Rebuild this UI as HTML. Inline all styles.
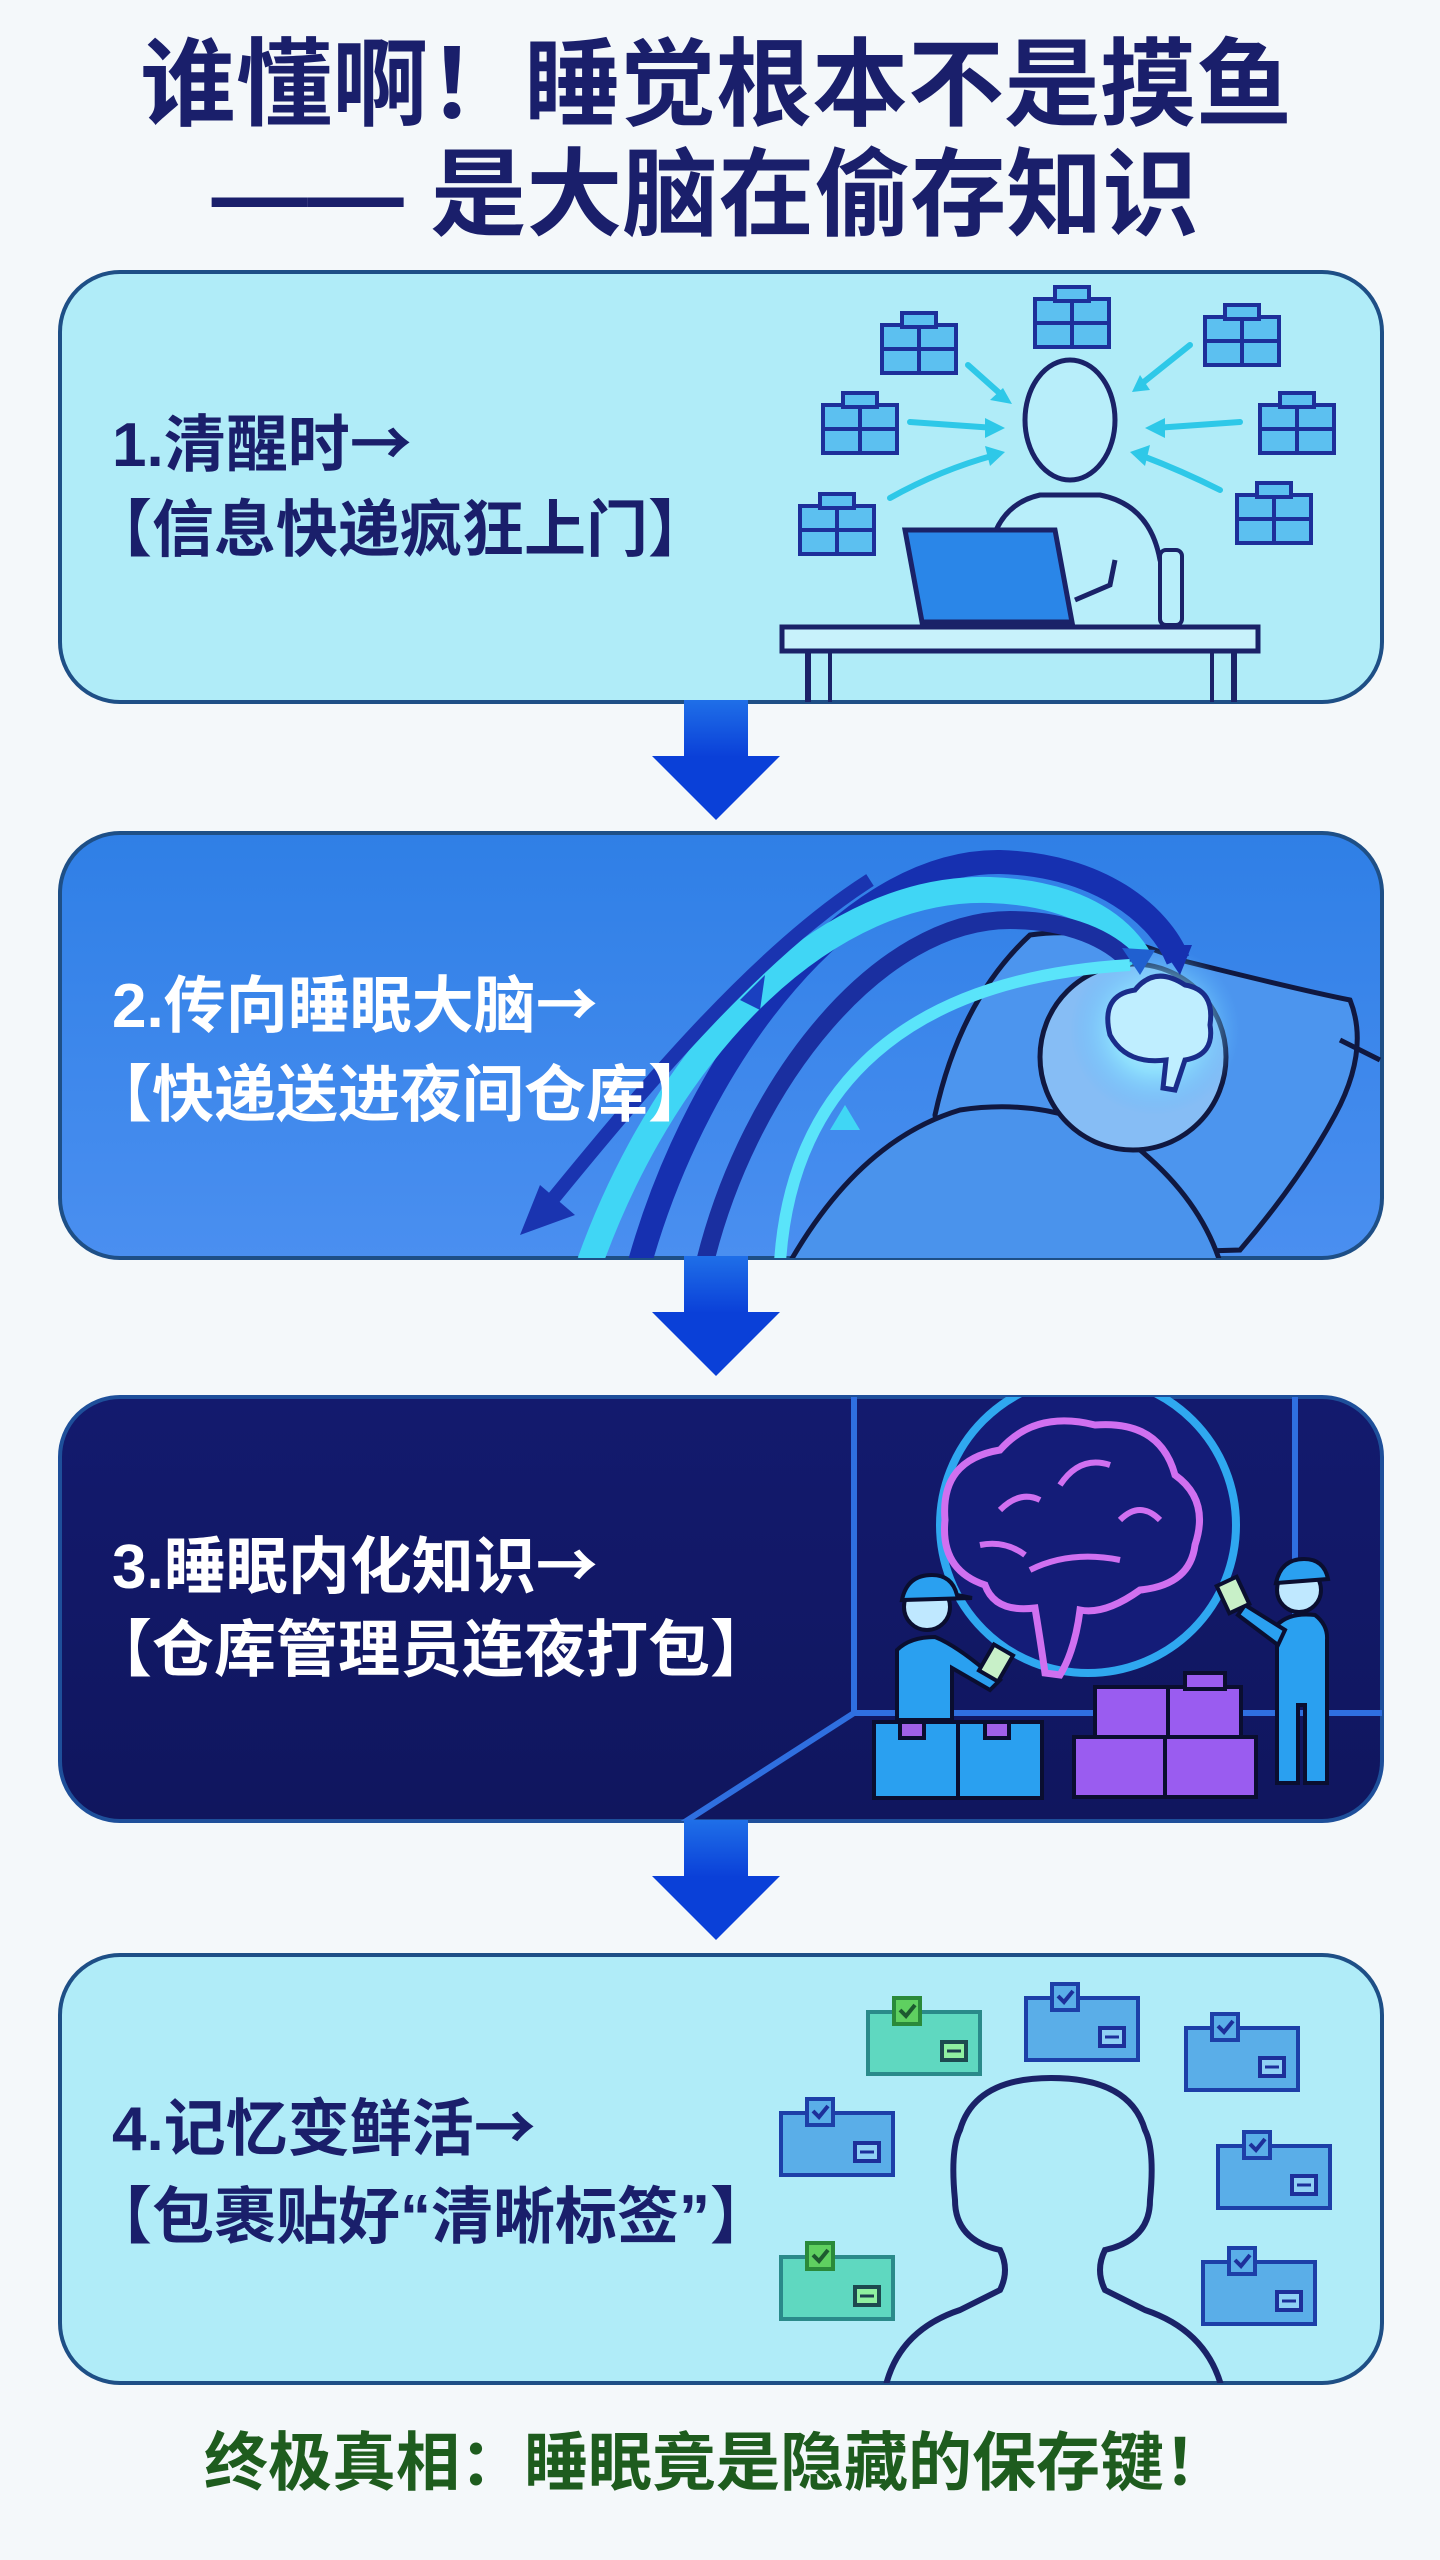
<!DOCTYPE html>
<html><head><meta charset="utf-8"><style>
html,body{margin:0;padding:0;background:#f4f8fa;}
svg{display:block}
text{font-family:"Liberation Sans","Noto Sans CJK SC",sans-serif;font-weight:bold;}
.ar{font-family:"Noto Sans CJK SC",sans-serif;}
</style></head><body>
<svg width="1440" height="2560" viewBox="0 0 1440 2560" xmlns="http://www.w3.org/2000/svg">
<defs>
<linearGradient id="g2" x1="0" y1="0" x2="0" y2="1"><stop offset="0" stop-color="#2f7fe6"/><stop offset="1" stop-color="#4a8ff0"/></linearGradient>
<linearGradient id="g3" x1="0" y1="0" x2="0" y2="1"><stop offset="0" stop-color="#131a6e"/><stop offset="1" stop-color="#10165e"/></linearGradient>
<linearGradient id="ga" x1="0" y1="0" x2="0" y2="1"><stop offset="0" stop-color="#1f6fe8"/><stop offset="1" stop-color="#0a3fd8"/></linearGradient>
<radialGradient id="glow"><stop offset="0" stop-color="#d8fbff"/><stop offset="0.5" stop-color="#8fe6ff" stop-opacity="0.8"/><stop offset="1" stop-color="#5ab8ff" stop-opacity="0"/></radialGradient>
<clipPath id="c2"><rect x="60" y="833" width="1322" height="425" rx="60"/></clipPath>
<clipPath id="c3"><rect x="60" y="1397" width="1322" height="424" rx="60"/></clipPath>
<clipPath id="c4"><rect x="60" y="1955" width="1322" height="428" rx="60"/></clipPath>
<g id="pk"><rect x="0" y="12" width="74" height="48" fill="#5cc0f0" stroke="#1d2f9a" stroke-width="4"/><rect x="20" y="0" width="34" height="14" fill="#5cc0f0" stroke="#1d2f9a" stroke-width="4"/><line x1="37" y1="12" x2="37" y2="60" stroke="#1d2f9a" stroke-width="4"/><line x1="0" y1="36" x2="74" y2="36" stroke="#1d2f9a" stroke-width="4"/></g>
<g id="lb"><rect x="0" y="14" width="112" height="62" fill="#5aaee8" stroke="#1d3fa8" stroke-width="4"/><rect x="26" y="0" width="26" height="26" fill="#5aaee8" stroke="#1d3fa8" stroke-width="4"/><path d="M32 12 l6 6 l9 -11" stroke="#1d2f9a" stroke-width="4" fill="none"/><rect x="74" y="44" width="24" height="18" fill="#8fd0f5" stroke="#1d2f9a" stroke-width="4"/><line x1="79" y1="53" x2="93" y2="53" stroke="#1d2f9a" stroke-width="3"/></g>
<g id="lg"><rect x="0" y="14" width="112" height="62" fill="#5fd8c0" stroke="#2a8a8a" stroke-width="4"/><rect x="26" y="0" width="26" height="26" fill="#5fd060" stroke="#2a8a3a" stroke-width="4"/><path d="M32 12 l6 6 l9 -11" stroke="#1d5a2f" stroke-width="4" fill="none"/><rect x="74" y="44" width="24" height="18" fill="#8ff0a0" stroke="#1d4a4f" stroke-width="4"/><line x1="79" y1="53" x2="93" y2="53" stroke="#1d3f4f" stroke-width="3"/></g>
<g id="dn"><rect x="-32" y="0" width="64" height="58" fill="url(#ga)"/><polygon points="-64,56 64,56 0,120" fill="#0a40d8"/></g>
</defs>

<!-- Title -->
<text x="716" y="118" font-size="96" fill="#1a1f6b" text-anchor="middle">谁懂啊！睡觉根本不是摸鱼</text>
<text x="705" y="228" font-size="96" fill="#1a1f6b" text-anchor="middle">—— 是大脑在偷存知识</text>

<!-- Box 1 -->
<rect x="60" y="272" width="1322" height="430" rx="60" fill="#b0ecf8" stroke="#1e4f86" stroke-width="4"/>
<text x="112" y="466" font-size="62" fill="#1a1f6b">1.清醒时<tspan class="ar">→</tspan></text>
<text x="90" y="551" font-size="62" fill="#1a1f6b">【信息快递疯狂上门】</text>
<g>
<use href="#pk" x="882" y="313"/><use href="#pk" x="1035" y="287"/><use href="#pk" x="1205" y="305"/>
<use href="#pk" x="823" y="393"/><use href="#pk" x="1260" y="393"/><use href="#pk" x="800" y="494"/><use href="#pk" x="1237" y="483"/>
<g stroke="#2ec8e8" stroke-width="6" fill="none" stroke-linecap="round">
<path d="M968 365 L1005 398"/><path d="M1190 345 L1140 385"/><path d="M910 422 L995 428"/><path d="M1240 422 L1155 428"/><path d="M890 498 Q940 470 995 455"/><path d="M1220 490 Q1180 470 1140 455"/>
</g>
<g fill="#2ec8e8"><polygon points="1012,404 990,400 1003,388"/><polygon points="1132,392 1140,375 1150,390"/><polygon points="1005,428 985,418 985,438"/><polygon points="1145,428 1165,418 1165,438"/><polygon points="1005,452 985,446 990,466"/><polygon points="1130,452 1150,445 1145,466"/></g>
<path d="M988 625 L988 560 Q995 505 1040 495 L1100 495 Q1150 505 1160 560 L1178 625" fill="#b8eefa" stroke="#1a2268" stroke-width="5"/>
<rect x="1160" y="550" width="22" height="75" rx="6" fill="#b8eefa" stroke="#1a2268" stroke-width="4"/>
<ellipse cx="1070" cy="420" rx="45" ry="60" fill="#b8eefa" stroke="#1a2268" stroke-width="5"/>
<polygon points="905,530 1055,530 1072,622 922,622" fill="#2a86e8" stroke="#1a2268" stroke-width="5"/>
<path d="M1075 600 L1110 585 L1115 560" stroke="#1a2268" stroke-width="5" fill="none"/>
<rect x="782" y="627" width="476" height="24" fill="#c8f2fb" stroke="#1a2268" stroke-width="5"/>
<line x1="808" y1="651" x2="808" y2="702" stroke="#1a2268" stroke-width="6"/><line x1="830" y1="651" x2="830" y2="702" stroke="#1a2268" stroke-width="4"/>
<line x1="1212" y1="651" x2="1212" y2="702" stroke="#1a2268" stroke-width="4"/><line x1="1234" y1="651" x2="1234" y2="702" stroke="#1a2268" stroke-width="6"/>
</g>

<use href="#dn" x="716" y="700"/>

<!-- Box 2 -->
<rect x="60" y="833" width="1322" height="425" rx="60" fill="url(#g2)" stroke="#1e4f86" stroke-width="4"/>
<g clip-path="url(#c2)">
<path d="M935 1115 Q960 1000 1030 935 Q1100 925 1180 960 Q1300 990 1350 1000 Q1370 1050 1335 1115 Q1300 1180 1240 1250 L960 1258 Z" fill="#4c95ee" stroke="#101840" stroke-width="5"/>
<path d="M790 1262 Q860 1140 960 1110 Q1060 1095 1140 1150 Q1200 1200 1220 1262 Z" fill="#4a93ec" stroke="#101840" stroke-width="5"/>
<circle cx="1133" cy="1057" r="93" fill="#86bdf5" stroke="#101840" stroke-width="5"/>
<circle cx="1155" cy="1030" r="85" fill="url(#glow)"/>
<path d="M1110 1035 q-10 -40 25 -45 q20 -25 50 -5 q30 5 25 40 q5 30 -25 35 l-10 30 l-12 -2 l3 -28 q-40 5 -56 -25 z" fill="#bfeeff" stroke="#1a2c8a" stroke-width="5"/>
<path d="M1380 1060 L1340 1040" stroke="#101840" stroke-width="5"/>
<path d="M640 1262 C700 1050 850 860 1000 862 C1100 865 1160 915 1178 960" stroke="#1630b0" stroke-width="24" fill="none"/>
<path d="M590 1262 C670 1040 830 885 990 890 C1075 893 1120 925 1140 960" stroke="#40d6f5" stroke-width="26" fill="none"/>
<path d="M705 1262 C750 1080 880 920 1010 920 C1070 920 1110 940 1130 962" stroke="#1a2fa0" stroke-width="18" fill="none"/>
<path d="M780 1262 C790 1110 880 980 1130 965" stroke="#5ae4fa" stroke-width="12" fill="none"/>
<path d="M870 880 C760 950 650 1080 548 1205" stroke="#1a34b0" stroke-width="14" fill="none"/>
<polygon points="520,1235 540,1185 575,1215" fill="#1a34b0"/>
<polygon points="1180,975 1160,945 1192,945" fill="#1630b0"/><polygon points="1140,975 1122,948 1155,950" fill="#2060d0"/>
<polygon points="740,1000 765,975 760,1010" fill="#1a40c0"/><polygon points="845,1105 830,1130 860,1130" fill="#40d6f5"/>
</g>
<text x="112" y="1027" font-size="62" fill="#ffffff">2.传向睡眠大脑<tspan class="ar">→</tspan></text>
<text x="90" y="1116" font-size="62" fill="#ffffff">【快递送进夜间仓库】</text>

<use href="#dn" x="716" y="1256"/>

<!-- Box 3 -->
<rect x="60" y="1397" width="1322" height="424" rx="60" fill="url(#g3)" stroke="#1e4f9a" stroke-width="4"/>
<g clip-path="url(#c3)">
<path d="M854 1397 L854 1713 L680 1825 M854 1713 L1382 1713 M1295 1397 L1295 1713" stroke="#2f6fe0" stroke-width="6" fill="none"/>
<circle cx="1088" cy="1525" r="148" fill="#141c78" stroke="#2fa8f0" stroke-width="8"/>
<path d="M985 1585 q-45 -15 -40 -65 q-5 -60 55 -70 q35 -40 95 -25 q65 -5 80 50 q35 25 20 70 q-5 40 -55 45 q-35 25 -60 20 q-5 40 -20 65 l-15 -2 q-5 -35 -10 -65 q-40 5 -50 -23 z" fill="none" stroke="#d070f0" stroke-width="7"/>
<path d="M1000 1510 q20 -20 40 -10 M1060 1485 q20 -30 50 -20 M1030 1570 q40 -20 90 -10 M1120 1520 q20 -20 40 0 M980 1545 q25 -5 45 10" stroke="#d070f0" stroke-width="6" fill="none"/>
<g stroke="#0a0e30" stroke-width="4">
<rect x="874" y="1722" width="84" height="76" fill="#2aa0f0"/><rect x="958" y="1722" width="84" height="76" fill="#2aa0f0"/>
<rect x="900" y="1722" width="24" height="16" fill="#a060e8"/><rect x="985" y="1722" width="24" height="16" fill="#a060e8"/>
<rect x="1095" y="1687" width="73" height="50" fill="#9a5cf0"/><rect x="1168" y="1687" width="73" height="50" fill="#9a5cf0"/>
<rect x="1185" y="1673" width="40" height="16" fill="#9a5cf0"/>
<rect x="1074" y="1737" width="91" height="60" fill="#9a5cf0"/><rect x="1165" y="1737" width="91" height="60" fill="#9a5cf0"/>
<path d="M897 1720 L897 1650 Q910 1637 935 1637 Q955 1645 985 1670 L1000 1680 L990 1690 L952 1668 L952 1720 Z" fill="#2aa0f0"/>
<circle cx="927" cy="1607" r="23" fill="#bfe8ff"/><path d="M902 1600 q5 -25 30 -25 q20 0 25 20 l15 3 z" fill="#2aa0f0"/>
<rect x="985" y="1648" width="22" height="30" fill="#c8f0c8" transform="rotate(30 996 1663)"/>
<path d="M1277 1783 L1277 1625 Q1290 1612 1315 1615 Q1328 1625 1327 1640 L1327 1783 L1305 1783 L1305 1705 L1298 1705 L1298 1783 Z" fill="#2aa0f0"/>
<path d="M1285 1630 L1245 1605 L1238 1615 L1278 1645 Z" fill="#2aa0f0"/>
<circle cx="1299" cy="1590" r="22" fill="#bfe8ff"/><path d="M1276 1583 q5 -24 28 -24 q20 0 24 20 l-52 4 z" fill="#2aa0f0"/>
<rect x="1222" y="1580" width="22" height="30" fill="#c8f0c8" transform="rotate(-25 1233 1595)"/>
</g>
</g>
<text x="112" y="1588" font-size="62" fill="#ffffff">3.睡眠内化知识<tspan class="ar">→</tspan></text>
<text x="90" y="1671" font-size="62" fill="#ffffff">【仓库管理员连夜打包】</text>

<use href="#dn" x="716" y="1820"/>

<!-- Box 4 -->
<rect x="60" y="1955" width="1322" height="428" rx="60" fill="#b0ecf8" stroke="#1e4f86" stroke-width="4"/>
<g clip-path="url(#c4)">
<path d="M886 2385 Q900 2330 960 2310 L1000 2290 Q1010 2270 1000 2250 Q955 2240 955 2200 Q950 2150 960 2130 Q975 2078 1051 2078 Q1130 2078 1145 2130 Q1155 2150 1150 2200 Q1150 2240 1105 2250 Q1095 2270 1105 2290 L1145 2310 Q1205 2330 1221 2385" fill="none" stroke="#1a2268" stroke-width="6"/>
</g>
<use href="#lg" x="868" y="1998"/><use href="#lb" x="1026" y="1984"/><use href="#lb" x="1186" y="2014"/>
<use href="#lb" x="781" y="2099"/><use href="#lb" x="1218" y="2132"/><use href="#lg" x="781" y="2243"/><use href="#lb" x="1203" y="2248"/>
<text x="112" y="2150" font-size="62" fill="#1a1f6b">4.记忆变鲜活<tspan class="ar">→</tspan></text>
<text x="90" y="2238" font-size="62" fill="#1a1f6b">【包裹贴好“清晰标签”】</text>

<text x="716" y="2485" font-size="64" fill="#1e5c1e" text-anchor="middle">终极真相：睡眠竟是隐藏的保存键！</text>
</svg>
</body></html>
